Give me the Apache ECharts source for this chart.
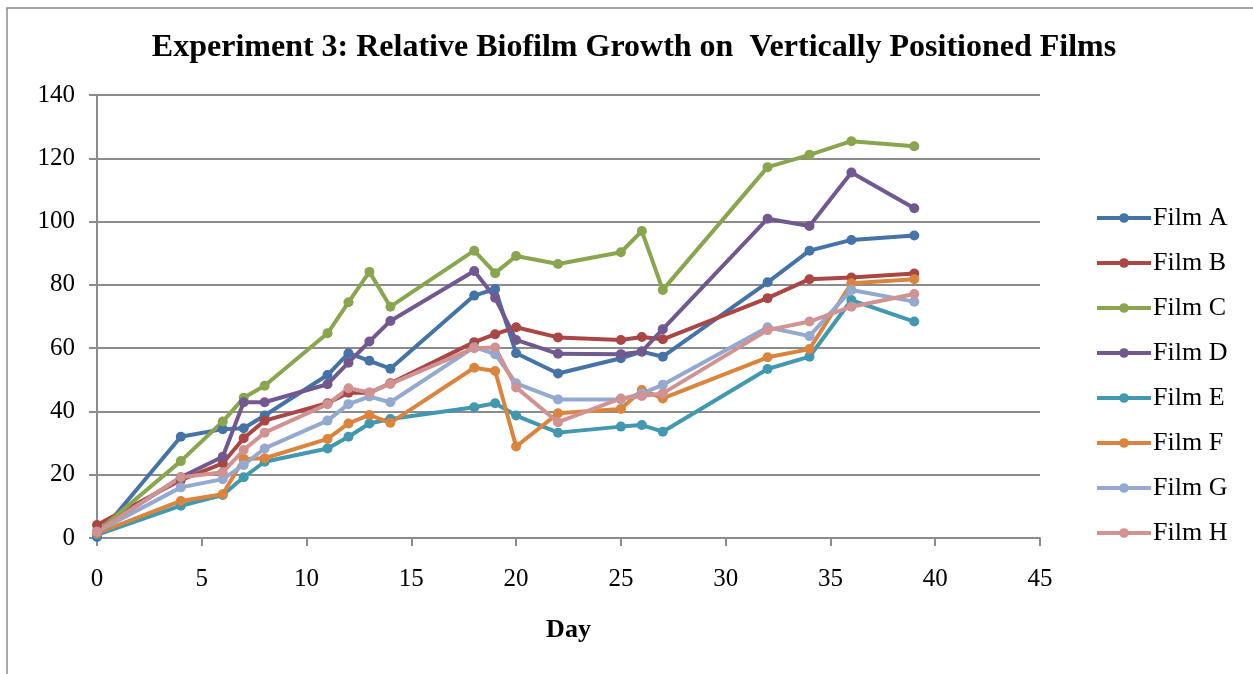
<!DOCTYPE html>
<html>
<head>
<meta charset="utf-8">
<script src="https://cdn.jsdelivr.net/npm/echarts@6/dist/echarts.min.js"></script>
<style>
  html, body { margin: 0; padding: 0; background: #fff; }
  #chart { width: 1253px; height: 674px; }
</style>
</head>
<body>
<div id="chart"></div>
<script>
// 数据
var days = [0, 4, 6, 7, 8, 11, 12, 13, 14, 18, 19, 20, 22, 25, 26, 27, 32, 34, 36, 39];
var filmA = [0.3, 32.0, 34.4, 34.7, 38.7, 51.5, 58.4, 56.0, 53.5, 76.6, 78.7, 58.4, 52.0, 56.8, 58.9, 57.3, 80.8, 90.8, 94.2, 95.6];
var filmB = [4.1, 18.3, 23.6, 31.5, 37.1, 42.6, 45.9, 45.9, 48.9, 61.9, 64.4, 66.6, 63.4, 62.6, 63.5, 62.8, 75.8, 81.8, 82.3, 83.6];
var filmC = [2.0, 24.3, 36.8, 44.3, 48.1, 64.7, 74.5, 84.1, 73.1, 90.8, 83.7, 89.1, 86.6, 90.3, 97.0, 78.4, 117.2, 121.1, 125.4, 123.8];
var filmD = [2.0, 19.2, 25.7, 42.9, 42.9, 48.6, 55.4, 62.1, 68.6, 84.4, 75.9, 62.6, 58.2, 58.1, 58.9, 66.0, 100.9, 98.6, 115.5, 104.2];
var filmE = [1.0, 10.2, 13.6, 19.2, 24.1, 28.3, 32.0, 36.2, 37.6, 41.3, 42.6, 38.7, 33.3, 35.2, 35.7, 33.6, 53.4, 57.3, 75.2, 68.4];
var filmF = [1.5, 11.7, 13.8, 25.0, 25.2, 31.3, 36.2, 38.9, 36.4, 53.8, 52.8, 28.9, 39.4, 40.8, 46.8, 44.1, 57.1, 59.7, 80.5, 81.8];
var filmG = [2.0, 16.0, 18.6, 23.1, 28.3, 37.1, 42.3, 44.7, 42.9, 60.3, 58.1, 48.9, 43.8, 43.8, 45.7, 48.4, 66.6, 63.8, 78.4, 74.7];
var filmH = [2.0, 19.2, 20.8, 27.8, 33.3, 42.3, 47.3, 46.0, 48.7, 60.0, 60.2, 47.6, 36.6, 44.1, 44.9, 45.7, 65.7, 68.4, 73.1, 77.1];

var names = ['Film A', 'Film B', 'Film C', 'Film D', 'Film E', 'Film F', 'Film G', 'Film H'];
var values = [filmA, filmB, filmC, filmD, filmE, filmF, filmG, filmH];
var colors = ['#4572A7', '#AA4643', '#89A54E', '#71588F', '#4198AF', '#DB843D', '#93A9CF', '#D19392'];

var font = '"Liberation Serif", "Times New Roman", serif';

(function() {
    var myChart = echarts.init(document.getElementById('chart'));

    var series = names.map(function(name, i) {
        return {
            name: name,
            type: 'line',
            data: days.map(function(d, j) { return [d, values[i][j]]; }),
            symbol: 'circle',
            symbolSize: 10,
            lineStyle: { width: 4, color: colors[i] },
            itemStyle: { color: colors[i] },
            animation: false
        };
    });

    var option = {
        color: colors,
        title: {
            text: 'Experiment 3: Relative Biofilm Growth on  Vertically Positioned Films',
            left: 629,
            textAlign: 'center',
            top: 27,
            textStyle: {
                fontFamily: font,
                fontSize: 32,
                fontWeight: 'bold',
                color: '#000'
            }
        },
        graphic: [{
            type: 'rect',
            shape: { x: 7, y: 8, width: 1250, height: 700 },
            style: { fill: 'none', stroke: '#8c8c8c', lineWidth: 1.5 },
            silent: true
        }],
        legend: {
            orient: 'vertical',
            left: 1090,
            top: 200,
            itemWidth: 54,
            itemHeight: 12,
            itemGap: 19,
            lineStyle: { width: 4 },
            textStyle: {
                fontFamily: font,
                fontSize: 26,
                color: '#000',
                lineHeight: 26,
                padding: [0, 0, 0, -3]
            },
            data: names
        },
        grid: {
            left: 97,
            right: 213,
            top: 95,
            bottom: 136
        },
        xAxis: {
            type: 'value',
            min: 0,
            max: 45,
            interval: 5,
            name: 'Day',
            nameLocation: 'middle',
            nameGap: 79,
            nameTextStyle: {
                fontFamily: font,
                fontSize: 26,
                fontWeight: 'bold',
                color: '#000'
            },
            axisLine: { lineStyle: { color: '#8c8c8c', width: 2 } },
            axisTick: { show: true, inside: false, length: 8, lineStyle: { color: '#8c8c8c', width: 2 } },
            axisLabel: {
                fontFamily: font,
                fontSize: 25,
                color: '#000',
                margin: 29
            },
            splitLine: { show: false }
        },
        yAxis: {
            type: 'value',
            min: 0,
            max: 140,
            interval: 20,
            axisLine: { show: true, lineStyle: { color: '#8c8c8c', width: 2 } },
            axisTick: { show: true, inside: false, length: 8, lineStyle: { color: '#8c8c8c', width: 2 } },
            axisLabel: {
                fontFamily: font,
                fontSize: 25,
                color: '#000',
                margin: 22
            },
            splitLine: { show: true, lineStyle: { color: '#8c8c8c', width: 2 } }
        },
        series: series
    };

    myChart.setOption(option);
})();
</script>
</body>
</html>
